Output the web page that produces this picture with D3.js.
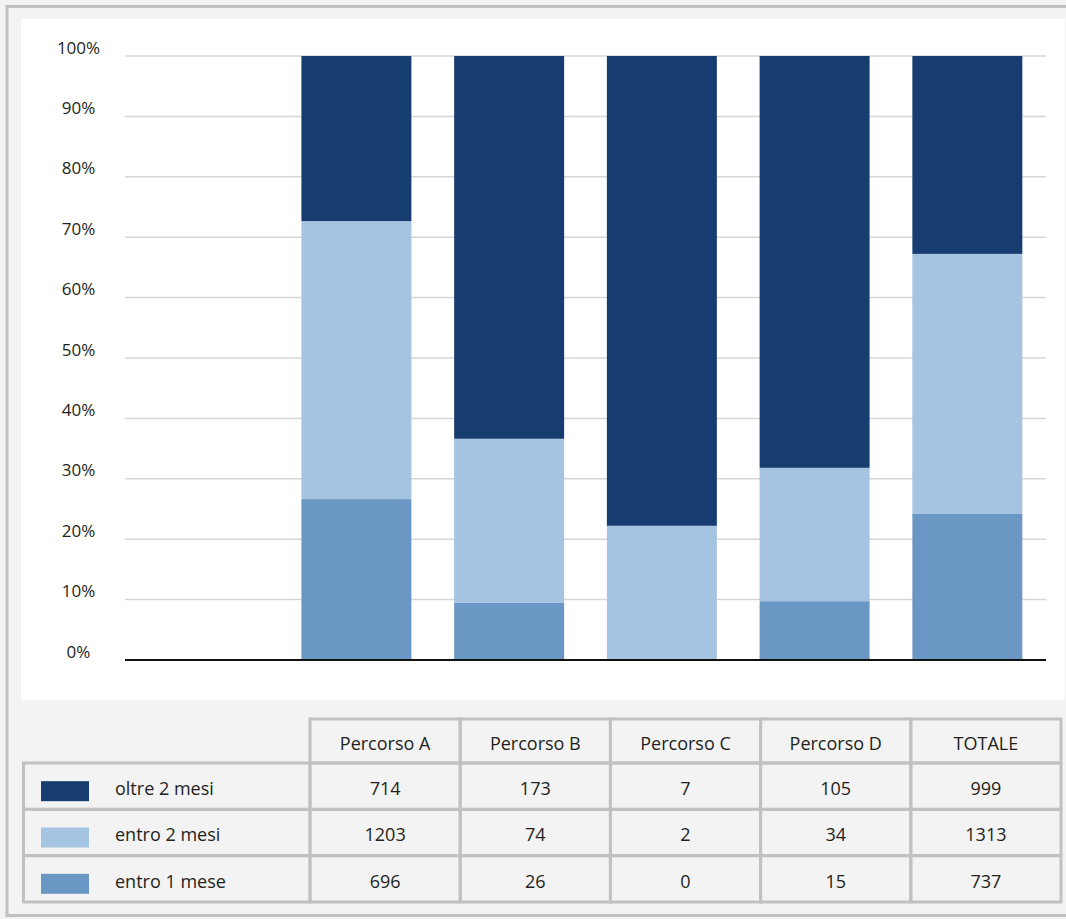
<!DOCTYPE html>
<html lang="it">
<head>
<meta charset="utf-8">
<title>Percorsi</title>
<script src="https://d3js.org/d3.v7.min.js"></script>
<style>
  body { margin: 0; background: #f2f3f2; }
  svg { display: block; font-family: "Open Sans", "Noto Sans", sans-serif; }
  .tick-label { font-size: 17px; fill: #231f20; }
  .cell-text { font-size: 18px; fill: #231f20; }
</style>
</head>
<body>
<svg width="1066" height="919"></svg>
<script>
// data
var categories = ["Percorso A", "Percorso B", "Percorso C", "Percorso D", "TOTALE"];
var seriesNames = ["oltre 2 mesi", "entro 2 mesi", "entro 1 mese"];
var oltre2mesi = [714, 173, 7, 105, 999];
var entro2mesi = [1203, 74, 2, 34, 1313];
var entro1mese = [696, 26, 0, 15, 737];
var yTicks = [0, 10, 20, 30, 40, 50, 60, 70, 80, 90, 100];

var colors = {
  "oltre 2 mesi": "#173d70",
  "entro 2 mesi": "#a4c4e1",
  "entro 1 mese": "#6a97c3"
};

var rows = categories.map(function(c, i) {
  return {cat: c, "oltre 2 mesi": oltre2mesi[i], "entro 2 mesi": entro2mesi[i], "entro 1 mese": entro1mese[i]};
});

var svg = d3.select("svg");
var gridCol = "#d6d6d6", borderCol = "#c0c1c3";

// frame + white plot panel
svg.append("rect").attr("x", 7).attr("y", 6.5).attr("width", 1070).attr("height", 909)
  .attr("fill", "#f2f3f2").attr("stroke", borderCol).attr("stroke-width", 3);
svg.append("rect").attr("x", 21).attr("y", 19).attr("width", 1044).attr("height", 681)
  .attr("fill", "#fff");

// scales
var x = d3.scaleBand().domain(["blank"].concat(categories)).range([125, 1046])
  .paddingInner(0.28).paddingOuter(0.155);
var y = d3.scaleLinear().domain([0, 100]).range([660, 56]);

// grid
svg.append("g").selectAll("line").data(yTicks.slice(1)).enter().append("line")
  .attr("x1", 125).attr("x2", 1046)
  .attr("y1", function(d) { return y(d); }).attr("y2", function(d) { return y(d); })
  .attr("stroke", gridCol).attr("stroke-width", 1.5);

svg.append("g").selectAll("text").data(yTicks).enter().append("text")
  .attr("class", "tick-label")
  .attr("x", 78.5).attr("y", function(d) { return y(d) - 7; })
  .attr("text-anchor", "middle").attr("dominant-baseline", "middle")
  .text(function(d) { return d + "%"; });

// stacked bars (bottom to top)
var stack = d3.stack().keys(["entro 1 mese", "entro 2 mesi", "oltre 2 mesi"])
  .offset(d3.stackOffsetExpand);
var layers = stack(rows);

svg.append("g").selectAll("g").data(layers).enter().append("g")
  .attr("fill", function(d) { return colors[d.key]; })
  .selectAll("rect").data(function(d) { return d; }).enter().append("rect")
  .attr("x", function(d) { return x(d.data.cat); })
  .attr("width", x.bandwidth())
  .attr("y", function(d) { return y(d[1] * 100); })
  .attr("height", function(d) { return y(d[0] * 100) - y(d[1] * 100); });

// baseline
svg.append("line").attr("x1", 125).attr("x2", 1046).attr("y1", y(0)).attr("y2", y(0))
  .attr("stroke", "#111").attr("stroke-width", 2);

// table
var xc = d3.scaleBand().domain(categories).range([310, 1061]);
var headerTop = 719, headerBottom = 763, rowH = (902 - 763) / 3;
var labelLeft = 23.5;
var t = svg.append("g");

// header cells
t.selectAll(".hcell").data(categories).enter().append("rect")
  .attr("x", function(d) { return xc(d); }).attr("y", headerTop)
  .attr("width", xc.bandwidth()).attr("height", headerBottom - headerTop)
  .attr("fill", "none").attr("stroke", borderCol).attr("stroke-width", 3);
t.selectAll(".htext").data(categories).enter().append("text")
  .attr("class", "cell-text")
  .attr("x", function(d) { return xc(d) + xc.bandwidth() / 2; })
  .attr("y", (headerTop + headerBottom) / 2 + 4)
  .attr("text-anchor", "middle").attr("dominant-baseline", "middle")
  .text(function(d) { return d; });

var seriesVals = {"oltre 2 mesi": oltre2mesi, "entro 2 mesi": entro2mesi, "entro 1 mese": entro1mese};

seriesNames.forEach(function(s, r) {
  var top = headerBottom + r * rowH;
  var cy = top + rowH / 2 + 4;
  t.append("rect").attr("x", labelLeft).attr("y", top)
    .attr("width", 310 - labelLeft).attr("height", rowH)
    .attr("fill", "none").attr("stroke", borderCol).attr("stroke-width", 3);
  t.append("rect").attr("x", 41).attr("y", cy - 9).attr("width", 48).attr("height", 20)
    .attr("fill", colors[s]);
  t.append("text").attr("class", "cell-text").attr("x", 115).attr("y", cy)
    .attr("dominant-baseline", "middle").text(s);
  categories.forEach(function(c, i) {
    t.append("rect").attr("x", xc(c)).attr("y", top)
      .attr("width", xc.bandwidth()).attr("height", rowH)
      .attr("fill", "none").attr("stroke", borderCol).attr("stroke-width", 3);
    t.append("text").attr("class", "cell-text")
      .attr("x", xc(c) + xc.bandwidth() / 2).attr("y", cy)
      .attr("text-anchor", "middle").attr("dominant-baseline", "middle")
      .text(seriesVals[s][i]);
  });
});
</script>
</body>
</html>
